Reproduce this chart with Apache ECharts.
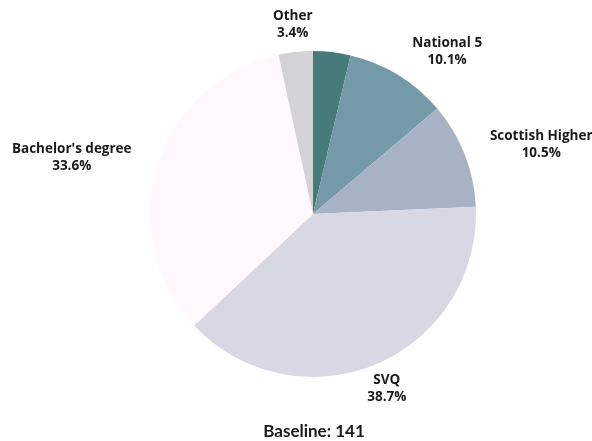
<!DOCTYPE html>
<html><head><meta charset="utf-8">
<script src="https://cdn.jsdelivr.net/npm/echarts@6/dist/echarts.min.js"></script>
<style>html,body{margin:0;padding:0;background:#fff}#c{width:592px;height:441px}</style>
</head><body><div id="c"></div>
<script>
const categories = ["", "National 5", "Scottish Higher", "SVQ", "Bachelor's degree", "Other"];
const values = [3.7, 10.1, 10.5, 38.7, 33.6, 3.4];
const showLabel = [false, true, true, true, true, true];
const labelCentered = [false, false, false, true, false, true];
const colors = ["#477a7b", "#7499a7", "#a7b3c5", "#d8d8e5", "#fff8fd", "#d3d3d7"];
const titleText = "Baseline: 141";

const FONT = "'Open Sans', sans-serif";
const chart = echarts.init(document.getElementById('c'), null, {renderer: 'canvas'});
chart.setOption({
  animation: false,
  title: {
    text: titleText, left: 314, textAlign: 'center', top: 423, padding: 0,
    textStyle: {fontFamily: 'Lato', fontWeight: 'bold', fontSize: 17, color: '#1a1a1a'}
  },
  series: [{
    type: 'pie',
    center: [313, 214],
    radius: [0, 163],
    startAngle: 90,
    clockwise: true,
    avoidLabelOverlap: false,
    label: {
      show: true, position: 'outside',
      formatter: p => p.name + '\n' + p.value + '%',
      fontFamily: FONT, fontWeight: 'bold', fontSize: 13.5, color: '#1a1a1a',
      lineHeight: 17, distanceToLabelLine: 0
    },
    labelLine: {show: false, length: 27, length2: 0},
    labelLayout: function (p) {
      const r = p.labelRect;
      const cy = r.y + r.height / 2;
      let x;
      if (labelCentered[p.dataIndex]) {
        x = p.align === 'right' ? r.x + r.width : r.x;
      } else {
        x = r.x + r.width / 2;
      }
      return {x: x, y: cy, align: 'center', verticalAlign: 'middle'};
    },
    itemStyle: {borderWidth: 0},
    emphasis: {disabled: true},
    data: categories.map((c, i) => ({
      name: c, value: values[i],
      itemStyle: {color: colors[i]},
      label: {show: showLabel[i]}
    }))
  }]
});
</script></body></html>
